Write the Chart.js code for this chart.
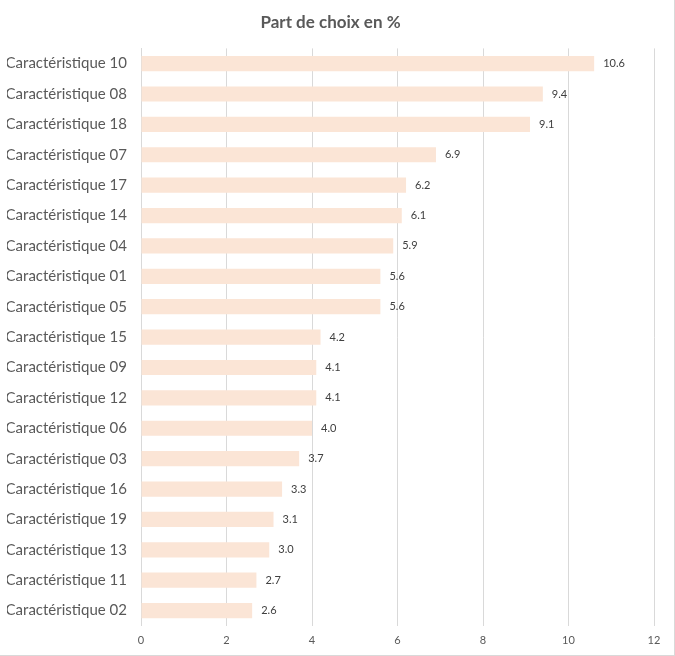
<!DOCTYPE html>
<html>
<head>
<meta charset="utf-8">
<script src="https://cdn.jsdelivr.net/npm/chart.js@4/dist/chart.umd.min.js"></script>
<style>
    html, body { margin: 0; padding: 0; background: #fff; }
    #wrap { position: relative; width: 674px; height: 655px; border: 1px solid #d9d9d9; border-left: none; border-top: none; }
</style>
</head>
<body>
<div id="wrap"><canvas id="chart" width="674" height="655"></canvas></div>
<script>
// 数据
const categories = [
    'Caractéristique 10', 'Caractéristique 08', 'Caractéristique 18', 'Caractéristique 07',
    'Caractéristique 17', 'Caractéristique 14', 'Caractéristique 04', 'Caractéristique 01',
    'Caractéristique 05', 'Caractéristique 15', 'Caractéristique 09', 'Caractéristique 12',
    'Caractéristique 06', 'Caractéristique 03', 'Caractéristique 16', 'Caractéristique 19',
    'Caractéristique 13', 'Caractéristique 11', 'Caractéristique 02'
];
const shares = [10.6, 9.4, 9.1, 6.9, 6.2, 6.1, 5.9, 5.6, 5.6, 4.2, 4.1, 4.1, 4.0, 3.7, 3.3, 3.1, 3.0, 2.7, 2.6];
const xTicks = [0, 2, 4, 6, 8, 10, 12];

const FONT = 'Lato, "Liberation Sans", sans-serif';

// 数据标签
const valueLabels = {
    id: 'valueLabels',
    afterDatasetsDraw(chart) {
        const ctx = chart.ctx;
        const meta = chart.getDatasetMeta(0);
        ctx.save();
        ctx.font = '11px ' + FONT;
        ctx.fillStyle = '#404040';
        ctx.textAlign = 'left';
        ctx.textBaseline = 'middle';
        meta.data.forEach((bar, i) => {
            ctx.fillText(shares[i].toFixed(1), bar.x + 9, bar.y);
        });
        ctx.restore();
    }
};

new Chart(document.getElementById('chart'), {
    type: 'bar',
    data: {
        labels: categories,
        datasets: [{
            data: shares,
            backgroundColor: '#fbe5d6',
            borderWidth: 0,
            categoryPercentage: 1,
            barPercentage: 0.5
        }]
    },
    options: {
        indexAxis: 'y',
        responsive: false,
        animation: false,
        layout: { padding: { left: 7, right: 20, top: 10, bottom: 0 } },
        plugins: {
            legend: { display: false },
            tooltip: { enabled: false },
            title: {
                display: true,
                text: 'Part de choix en %',
                color: '#595959',
                font: { family: FONT, size: 17, weight: 'bold' },
                padding: { top: 2, bottom: 16 }
            }
        },
        scales: {
            x: {
                min: 0,
                max: 12,
                afterBuildTicks(scale) {
                    scale.ticks = xTicks.map(v => ({ value: v }));
                },
                grid: { color: '#d9d9d9', drawTicks: false },
                border: { display: false },
                ticks: { color: '#595959', font: { family: FONT, size: 11 }, padding: 8 }
            },
            y: {
                afterFit(scale) { scale.width = 134; },
                grid: { display: false, drawTicks: false },
                border: { display: true, color: '#d9d9d9' },
                ticks: { color: '#595959', font: { family: FONT, size: 15 }, padding: 14 }
            }
        }
    },
    plugins: [valueLabels]
});
</script>
</body>
</html>
